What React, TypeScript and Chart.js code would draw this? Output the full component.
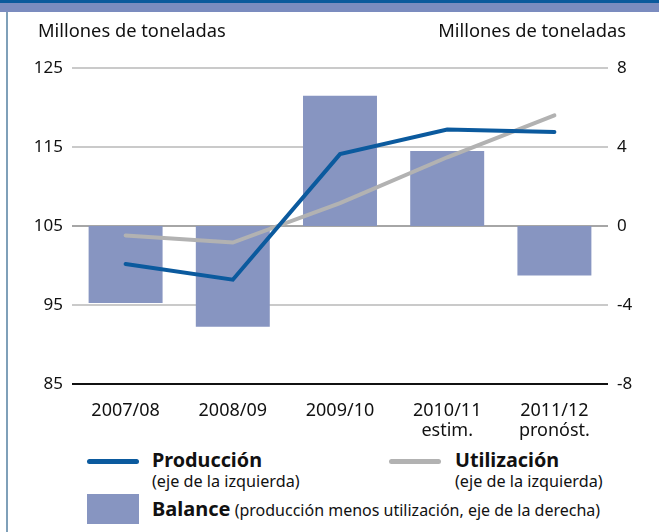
import React, { useEffect, useRef } from "react";
import { Chart, registerables } from "chart.js";

Chart.register(...registerables);

const categories: (string | string[])[] = ["2007/08", "2008/09", "2009/10", ["2010/11", "estim."], ["2011/12", "pronóst."]];
const produccion = [100.2, 98.2, 114.1, 117.2, 116.9];
const utilizacion = [103.8, 102.9, 107.9, 113.7, 119.0];
const balance = [-3.9, -5.1, 6.6, 3.8, -2.5];
const leftTicks = [85, 95, 105, 115, 125];
const rightTicks = [-8, -4, 0, 4, 8];

const FONT = "'Noto Sans', sans-serif";
const BLUE = "#0b5a9e";
const GRAY = "#b2b2b2";
const BAR = "#8795c1";

export default function App() {
  const ref = useRef<HTMLCanvasElement>(null);
  useEffect(() => {
    const ctx = ref.current!;
    const chart = new Chart(ctx, {
      type: "bar",
      data: {
        labels: categories,
        datasets: [
          {
            type: "line",
            label: "Producción",
            data: produccion,
            yAxisID: "y",
            borderColor: BLUE,
            borderWidth: 4,
            pointRadius: 0,
            borderCapStyle: "round",
            tension: 0,
            order: 1,
          },
          {
            type: "line",
            label: "Utilización",
            data: utilizacion,
            yAxisID: "y",
            borderColor: GRAY,
            borderWidth: 4,
            pointRadius: 0,
            borderCapStyle: "round",
            tension: 0,
            order: 1,
          },
          {
            type: "bar",
            label: "Balance",
            data: balance,
            yAxisID: "y1",
            backgroundColor: BAR,
            borderWidth: 0,
            categoryPercentage: 1,
            barPercentage: 0.69,
            order: 2,
          },
        ],
      },
      options: {
        responsive: false,
        animation: false,
        layout: { padding: { top: 68, left: 0, right: 0, bottom: 0 } },
        plugins: { legend: { display: false }, tooltip: { enabled: false } },
        scales: {
          x: {
            grid: { display: false },
            border: { display: false },
            ticks: { color: "#111", font: { family: FONT, size: 18, lineHeight: 1.1 }, padding: 9, maxRotation: 0 },
            afterFit: (s: any) => { s.height = 56; },
          },
          y: {
            position: "left",
            min: 85,
            max: 125,
            afterBuildTicks: (s: any) => { s.ticks = leftTicks.map((v) => ({ value: v })); },
            grid: {
              drawTicks: false,
              lineWidth: 2,
              color: (c: any) => (c.tick && c.tick.value === 85 ? "#111" : c.tick && c.tick.value === 105 ? "#a6a6a6" : "#cacaca"),
            },
            border: { display: false },
            ticks: { color: "#111", font: { family: FONT, size: 17 }, padding: 9 },
            afterFit: (s: any) => { s.width = 72; },
          },
          y1: {
            position: "right",
            min: -8,
            max: 8,
            afterBuildTicks: (s: any) => { s.ticks = rightTicks.map((v) => ({ value: v })); },
            grid: { display: false, drawTicks: false },
            border: { display: false },
            ticks: { color: "#111", font: { family: FONT, size: 17 }, padding: 9 },
            afterFit: (s: any) => { s.width = 51; },
          },
        },
      },
    });
    return () => chart.destroy();
  }, []);

  const text: React.CSSProperties = { position: "absolute", fontFamily: FONT, color: "#111", whiteSpace: "nowrap", lineHeight: 1 };
  return (
    <div style={{ position: "absolute", left: 0, top: 0, width: 659, height: 532, background: "#fff", overflow: "hidden" }}>
      <div style={{ position: "absolute", left: 0, top: 0, width: 659, height: 3, background: "#0b5a9c" }} />
      <div style={{ position: "absolute", left: 0, top: 3, width: 659, height: 9, background: "#7b8cbf" }} />
      <div style={{ position: "absolute", left: 6, top: 12, width: 2, height: 520, background: "#7fa0b9" }} />
      <canvas ref={ref} width={659} height={440} style={{ position: "absolute", left: 0, top: 0 }} />
      <div style={{ ...text, left: 38, top: 21, fontSize: 18.3 }}>Millones de toneladas</div>
      <div style={{ ...text, right: 33, top: 21, fontSize: 18.3 }}>Millones de toneladas</div>

      <div style={{ position: "absolute", left: 87, top: 459, width: 52, height: 5, borderRadius: 3, background: BLUE }} />
      <div style={{ ...text, left: 152, top: 450, fontSize: 19.8, fontWeight: 700 }}>Producción</div>
      <div style={{ ...text, left: 152, top: 473, fontSize: 16.2 }}>(eje de la izquierda)</div>

      <div style={{ position: "absolute", left: 389, top: 459, width: 52, height: 5, borderRadius: 3, background: GRAY }} />
      <div style={{ ...text, left: 455, top: 450, fontSize: 19.8, fontWeight: 700 }}>Utilización</div>
      <div style={{ ...text, left: 455, top: 473, fontSize: 16.2 }}>(eje de la izquierda)</div>

      <div style={{ position: "absolute", left: 87, top: 494, width: 52, height: 30, background: BAR }} />
      <div style={{ ...text, left: 152, top: 499, fontSize: 20 }}>
        <span style={{ fontWeight: 700 }}>Balance</span>
        <span style={{ fontSize: 16 }}> (producción menos utilización, eje de la derecha)</span>
      </div>
    </div>
  );
}
